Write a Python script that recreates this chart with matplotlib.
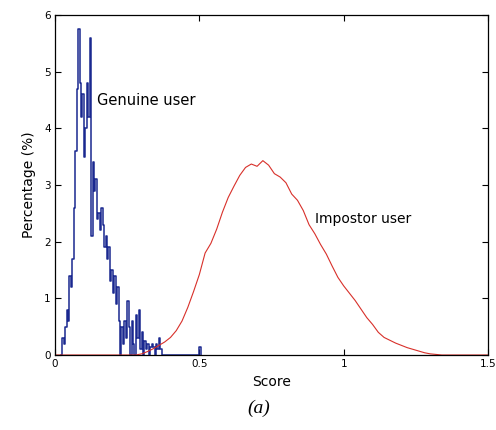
import numpy as np
import matplotlib
matplotlib.use("Agg")
import matplotlib.pyplot as plt

# Genuine user score histogram (bin width 0.005, starting at 0.020)
genuine_start = 0.020
genuine_width = 0.005
genuine_values = [
    0.0, 0.3, 0.2, 0.5, 0.8, 0.6, 1.4, 1.2, 1.7, 2.6,
    3.6, 4.7, 5.75, 4.8, 4.2, 4.6, 3.5, 4.0, 4.8, 4.2,
    5.6, 2.1, 3.4, 2.9, 3.1, 2.4, 2.5, 2.2, 2.6, 2.3,
    1.9, 2.1, 1.7, 1.9, 1.3, 1.5, 1.1, 1.4, 0.9, 1.2,
    0.6, 0.0, 0.5, 0.2, 0.6, 0.3, 0.95, 0.5, 0.0, 0.6,
    0.2, 0.0, 0.7, 0.3, 0.8, 0.1, 0.4, 0.0, 0.25, 0.1,
    0.2, 0.0, 0.15, 0.2, 0.15, 0.0, 0.2, 0.1, 0.3, 0.1,
    0.0, 0.0, 0.0, 0.0, 0.0, 0.0, 0.0, 0.0, 0.0, 0.0,
    0.0, 0.0, 0.0, 0.0, 0.0, 0.0, 0.0, 0.0, 0.0, 0.0,
    0.0, 0.0, 0.0, 0.0, 0.0, 0.0, 0.15, 0.0,
]

# Impostor user score distribution
impostor_x = [0.0, 0.28, 0.30, 0.32, 0.34, 0.36, 0.38, 0.40, 0.42, 0.44, 0.46,
              0.48, 0.50, 0.52, 0.54, 0.56, 0.58, 0.60, 0.62, 0.64, 0.66,
              0.68, 0.70, 0.72, 0.74, 0.76, 0.78, 0.80, 0.82, 0.84, 0.86,
              0.88, 0.90, 0.92, 0.94, 0.96, 0.98, 1.00, 1.02, 1.04, 1.06,
              1.08, 1.10, 1.12, 1.14, 1.16, 1.18, 1.20, 1.22, 1.24, 1.26,
              1.28, 1.30, 1.32, 1.34, 1.50]
impostor_y = [0.0, 0.0, 0.02, 0.06, 0.11, 0.17, 0.23, 0.31, 0.43, 0.60, 0.84,
              1.12, 1.42, 1.80, 1.97, 2.22, 2.52, 2.78, 2.98, 3.17, 3.31,
              3.37, 3.33, 3.43, 3.35, 3.20, 3.14, 3.04, 2.84, 2.73, 2.55,
              2.30, 2.14, 1.95, 1.78, 1.57, 1.37, 1.22, 1.09, 0.96, 0.81,
              0.66, 0.54, 0.40, 0.31, 0.26, 0.21, 0.17, 0.13, 0.10, 0.07,
              0.04, 0.02, 0.01, 0.0, 0.0]

x_ticks = [0, 0.5, 1, 1.5]
x_tick_labels = ["0", "0.5", "1", "1.5"]
y_ticks = [0, 1, 2, 3, 4, 5, 6]
y_tick_labels = ["0", "1", "2", "3", "4", "5", "6"]

fig = plt.figure(figsize=(4.96, 4.30), dpi=100)
ax = fig.add_axes([0.1109, 0.1744, 0.8730, 0.7907])

gx = genuine_start + genuine_width * np.arange(len(genuine_values))
ax.step(gx, genuine_values, where="post", color="#1a2890", lw=1.1)
ax.plot(impostor_x, impostor_y, color="#d8302a", lw=0.8)

ax.set_xlim(0, 1.5)
ax.set_ylim(0, 6)
ax.set_xticks(x_ticks)
ax.set_xticklabels(x_tick_labels)
ax.set_yticks(y_ticks)
ax.set_yticklabels(y_tick_labels)
ax.tick_params(direction="in", top=True, right=True, length=4, width=0.8,
               labelsize=7.5, pad=3)
for s in ax.spines.values():
    s.set_linewidth(0.9)

ax.set_xlabel("Score", fontsize=10, labelpad=4)
ax.set_ylabel("Percentage (%)", fontsize=10, labelpad=6)

ax.text(0.145, 4.5, "Genuine user", fontsize=10.5, va="center", ha="left")
ax.text(0.90, 2.4, "Impostor user", fontsize=10, va="center", ha="left")

fig.text(259 / 496, 1 - 408 / 430, "(a)", fontsize=14, style="italic",
         family="Liberation Serif", ha="center", va="center")

fig.savefig("out.png", dpi=100)
